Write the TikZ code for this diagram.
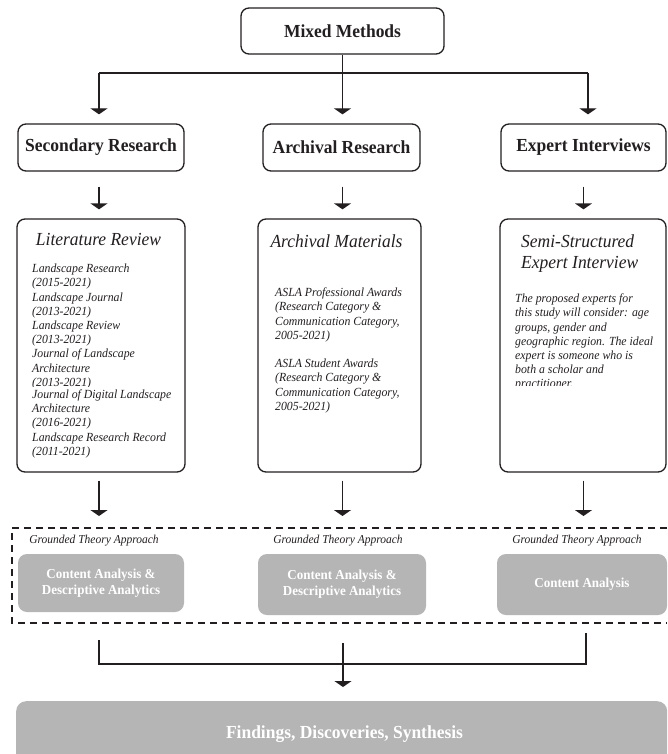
\documentclass[tikz,border=0pt]{standalone}
\usepackage{fontspec}
\setmainfont[FakeStretch=0.95]{Liberation Serif}
\usetikzlibrary{arrows.meta}
\definecolor{ink}{HTML}{231F20}
\definecolor{boxgray}{RGB}{180,181,180}
\begin{document}
\begin{tikzpicture}[x=1pt,y=-1pt,
  box/.style={draw=ink, line width=1.3pt, rounded corners=8pt, inner sep=0pt, text=ink},
  head/.style={box, font=\fontsize{18.4}{20}\selectfont\bfseries},
  gbox/.style={fill=boxgray, rounded corners=9pt, inner sep=0pt, text=white, font=\fontsize{13.7}{15.6}\selectfont\bfseries, align=center},
  arr/.style={draw=ink, line width=1.3pt, -{Triangle[width=17pt,length=6pt]}},
  ln/.style={draw=ink, line width=1.3pt},
  body/.style={anchor=north west, inner sep=0pt, align=left, text=ink, font=\fontsize{12.4}{14.2}\selectfont\itshape},
  ititle/.style={inner sep=0pt, text=ink, font=\fontsize{18.4}{21.5}\selectfont\itshape},
  gta/.style={inner sep=0pt, text=ink, font=\fontsize{12.1}{14}\selectfont\itshape},
  dashbox/.style={draw=ink, line width=1.2pt, dash pattern=on 7pt off 5pt}
]
\clip (0,0) rectangle (667,754);
\fill[white] (0,0) rectangle (667,754);

% top row
\node[head, minimum width=203pt, minimum height=46pt] (mm) at (342.5,31) {Mixed Methods};
\node[head, minimum width=166pt, minimum height=47pt] (sr) at (101,147.5) {Secondary Research};
\node[head, minimum width=157pt, minimum height=47pt] (ar) at (341.5,147.5) {Archival Research};
\node[head, minimum width=165pt, minimum height=47pt] (ei) at (583.5,147.5) {Expert Interviews};

\coordinate (jl) at (99,73);
\coordinate (jr) at (588,73);
\draw[ln] (jl) -- (jr);
\draw[arr, shorten >=9pt] (jl) -- (jl |- sr.north);
\draw[arr, shorten >=9pt] (mm.south) -- (mm.south |- ar.north);
\draw[arr, shorten >=9pt] (jr) -- (jr |- ei.north);

% third row boxes
\node[box, minimum width=168pt, minimum height=253pt] (lit) at (101,345.5) {};
\node[box, minimum width=163pt, minimum height=253pt] (am) at (339.5,345.5) {};
\node[box, minimum width=166pt, minimum height=253pt] (ss) at (583,345.5) {};

\draw[arr, shorten <=15pt, shorten >=9pt] (sr.south -| jl) -- (jl |- lit.north);
\draw[arr, shorten <=15pt, shorten >=9pt] (mm.south |- ar.south) -- (mm.south |- am.north);
\draw[arr, shorten <=15pt, shorten >=9pt] (ei.south) -- (ei.south |- ss.north);

% texts in third row
\node[ititle] (litt) at (98.5,240) {Literature Review};
\begin{scope}
\clip (20,255) rectangle (180,386);
\node[body] (litb1) at (32,262.6) {\strut Landscape Research\\(2015-2021)\\Landscape Journal\\(2013-2021)\\Landscape Review\\(2013-2021)\\Journal of Landscape\\Architecture\\(2013-2021)};
\end{scope}
\node[body] (litb2) at (32,388.3) {\strut Journal of Digital Landscape\\Architecture\\(2016-2021)\\Landscape Research Record\\(2011-2021)};

\node[ititle] (amt) at (336.5,241.7) {Archival Materials};
\node[body] (amb) at (275,286.6) {\strut ASLA Professional Awards\\(Research Category \&\\Communication Category,\\2005-2021)\\[14.2pt]ASLA Student Awards\\(Research Category \&\\Communication Category,\\2005-2021)};

\node[ititle, anchor=north west, align=left] (sst) at (521,232.2) {\strut Semi-Structured\\Expert Interview};
\begin{scope}
\clip (505,285) rectangle (662,385.5);
\node[body] (ssb) at (515,292.6) {\strut The proposed experts for\\this study will consider: age\\groups, gender and\\geographic region. The ideal\\expert is someone who is\\both a scholar and\\practitioner.};
\end{scope}

% dashed region
\coordinate (dtr) at (667,528);
\coordinate (dtl) at (12,528);
\coordinate (dbl) at (12,623);
\coordinate (dbr) at (667,623);
\draw[dashbox] (dtr) -- (dtl) -- (dbl) -- (dbr);

\draw[arr, shorten <=8pt, shorten >=12pt] (lit.south -| jl) -- (jl |- dtl);
\draw[arr, shorten <=8pt, shorten >=12pt] (am.south -| mm.south) -- (mm.south |- dtl);
\draw[arr, shorten <=8pt, shorten >=12pt] (ss.south -| ei.south) -- (ei.south |- dtl);

\node[gta] (gta1) at (94,541) {Grounded Theory Approach};
\node[gta] (gta2) at (338,541) {Grounded Theory Approach};
\node[gta] (gta3) at (577,541) {Grounded Theory Approach};

\node[gbox, minimum width=166pt, minimum height=58pt] (g1) at (101,583) {Content Analysis \&\\Descriptive Analytics};
\node[gbox, minimum width=168pt, minimum height=61pt] (g2) at (342,584.5) {Content Analysis \&\\Descriptive Analytics};
\node[gbox, minimum width=170pt, minimum height=61pt] (g3) at (582,584.5) {Content Analysis};

% bottom
\coordinate (bl) at (99,640);
\coordinate (hl) at (99,664);
\coordinate (hr) at (586,664);
\coordinate (br) at (586,633);
\coordinate (bm) at (343,643);
\draw[ln] (bl) -- (hl) -- (hr) -- (br);

\node[gbox, rounded corners=10pt, minimum width=651pt, minimum height=90pt, anchor=north west] (fin) at (16,701) {};
\node[inner sep=0pt, text=white, font=\fontsize{18.4}{20}\selectfont\bfseries] (fint) at (344.5,734) {Findings, Discoveries, Synthesis};
\draw[arr, shorten >=14pt] (bm) -- (bm |- fin.north);
\end{tikzpicture}
\end{document}
